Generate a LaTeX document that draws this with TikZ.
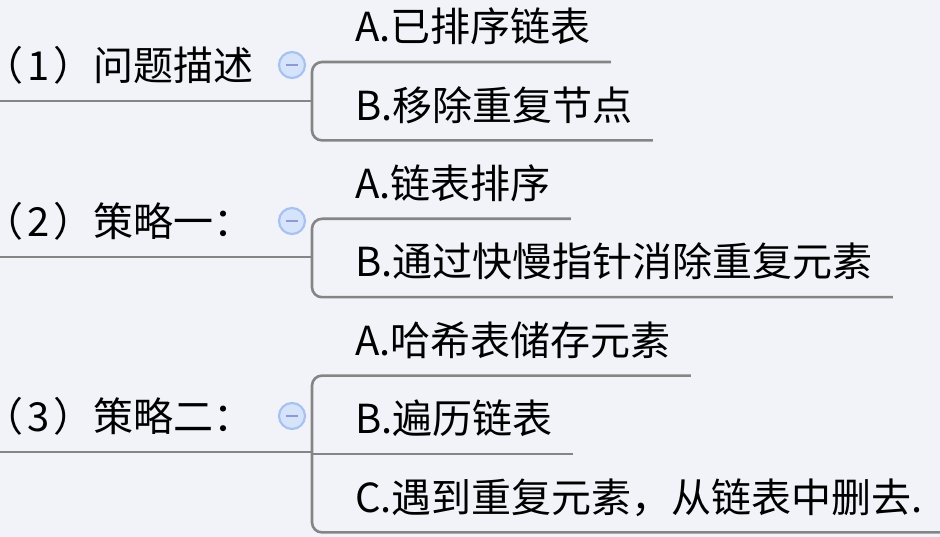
\documentclass[tikz,border=0pt]{standalone}
\usepackage{fontspec}
\setmainfont{Noto Sans CJK SC}
\usetikzlibrary{positioning}

\definecolor{bgcol}{HTML}{F2F3F9}
\definecolor{linecol}{HTML}{858585}
\definecolor{foldfill}{HTML}{D6E4FB}
\definecolor{folddraw}{HTML}{A8C2F0}
\definecolor{foldmark}{HTML}{8E9BD2}

% half-width opening bracket
\newcommand{\hopen}{{\addfontfeatures{RawFeature=+halt}（}}

\begin{document}
\begin{tikzpicture}[
        x=1pt, y=1pt,
        node distance=0pt,
        leaf/.style={anchor=south west, inner xsep=20pt, inner ysep=20pt, text height=38pt, text depth=0pt, font=\fontsize{40}{40}\selectfont},
        root/.style={anchor=south west, inner xsep=0pt, inner ysep=20pt, text height=38pt, text depth=0pt, font=\fontsize{40}{40}\selectfont},
        branch/.style={draw=linecol, line width=2.6pt, rounded corners=10pt},
        fold/.style={circle, fill=foldfill, draw=folddraw, line width=2.2pt, minimum size=26pt, inner sep=0pt},
        foldbar/.style={draw=foldmark, line width=2.4pt}
    ]

    \useasboundingbox (0,0) rectangle (940,-537);
    \fill[bgcol] (0,0) rectangle (940,-537);

    % Leaves
    \node[leaf] (a1) at (335,-62) {A.已排序链表};
    \node[leaf, below=of a1.south west, anchor=north west] (b1) {B.移除重复节点};
    \node[leaf, below=of b1.south west, anchor=north west] (a2) {A.链表排序};
    \node[leaf, below=of a2.south west, anchor=north west] (b2) {B.通过快慢指针消除重复元素};
    \node[leaf, below=of b2.south west, anchor=north west] (a3) {A.哈希表储存元素};
    \node[leaf, below=of a3.south west, anchor=north west] (b3) {B.遍历链表};
    \node[leaf, below=of b3.south west, anchor=north west] (c3) {C.遇到重复元素，从链表中删去.};

    % Roots
    \node[root] (r1) at (3,-101) {\hopen\hspace{4pt}1\hspace{4pt}）问题描述};
    \node[root] (r2) at (3,-257) {\hopen\hspace{4pt}2\hspace{4pt}）策略一：};
    \node[root] (r3) at (3,-452) {\hopen\hspace{4pt}3\hspace{4pt}）策略二：};

    % Junctions
    \coordinate (e) at (0,0);
    \coordinate (k) at (312,0);
    \coordinate (k1) at (r1.south -| k);
    \coordinate (k2) at (r2.south -| k);
    \coordinate (k3) at (r3.south -| k);

    % Edges
    \draw[branch] (r1.south -| e) -- (k1);
    \draw[branch] (a1.south east) -- (a1.south -| k) -- (b1.south -| k) -- (b1.south east);

    \draw[branch] (r2.south -| e) -- (k2);
    \draw[branch] (a2.south east) -- (a2.south -| k) -- (b2.south -| k) -- (b2.south east);

    \draw[branch] (r3.south -| e) -- (k3);
    \draw[branch] (a3.south east) -- (a3.south -| k) -- (c3.south -| k) -- (c3.south east);
    \draw[branch] (b3.south -| k) -- (b3.south east);

    % Fold buttons
    \foreach \k/\f in {k1/f1, k2/f2, k3/f3} {
        \node[fold] (\f) at ([shift={(-20,36)}]\k) {};
        \draw[foldbar] ([xshift=-6pt]\f.center) -- ([xshift=6pt]\f.center);
    }

\end{tikzpicture}
\end{document}
